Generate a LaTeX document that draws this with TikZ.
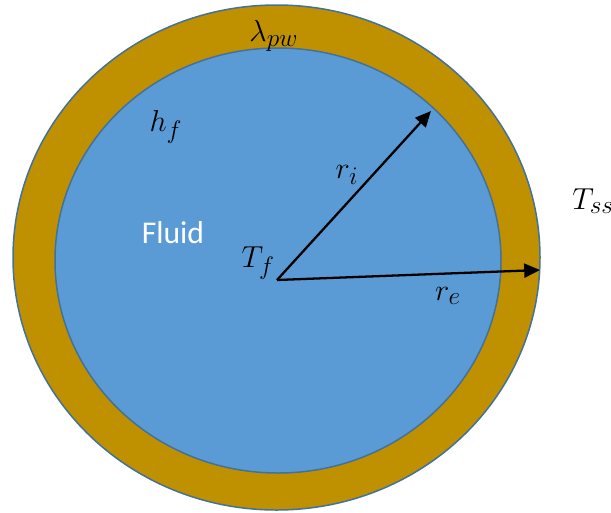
\documentclass[tikz,border=0pt]{standalone}
\usepackage{fontspec}
\newfontfamily\labelfont{Carlito}
\usepackage{xcolor}
\usepackage{tikz}
\usetikzlibrary{positioning,arrows.meta}
\definecolor{pipegold}{HTML}{BF9000}
\definecolor{fluidblue}{HTML}{5B9BD5}
\definecolor{edgeblue}{HTML}{41719C}

\begin{document}
\begin{tikzpicture}[
  x=0.02cm, y=0.02cm,
  wall/.style={fill=pipegold, draw=edgeblue, line width=0.85pt},
  core/.style={fill=fluidblue, draw=edgeblue, line width=0.85pt},
  radius arrow/.style={-{Triangle[length=9pt, width=8pt]}, line width=1.3pt, black},
  sym/.style={font=\fontsize{19}{22}\selectfont, inner sep=0pt},
  txt/.style={font=\labelfont\fontsize{18}{21}\selectfont, text=white, inner sep=0pt}]
\useasboundingbox (0,0) rectangle (611,512);
% pipe wall and fluid
\draw[wall] (276.5,254.5) ellipse [x radius=263.5, y radius=252.5];
\draw[core] (278,251.5) ellipse [x radius=223, y radius=212.5];
% radii
\coordinate (c) at (277,232);
\coordinate (ri) at (431,401);
\coordinate (re) at (540,242);
\draw[radius arrow] (c) -- (ri);
\draw[radius arrow] (c) -- (re);
% labels
\node[sym] (lpw) at (274,476) {$\lambda_{pw}$};
\node[sym] (hf) at (166,385) {$h_f$};
\node[txt] (fl) at (173,279) {Fluid};
\node[sym, anchor=south east] (tf) at ([xshift=-1pt]c) {$T_f$};
\node[sym] (rin) at (347,337) {$r_i$};
\node[sym] (rex) at (448,216) {$r_e$};
\node[sym, anchor=west] (tss) at (572,311) {$T_{ss}$};
\end{tikzpicture}
\end{document}
